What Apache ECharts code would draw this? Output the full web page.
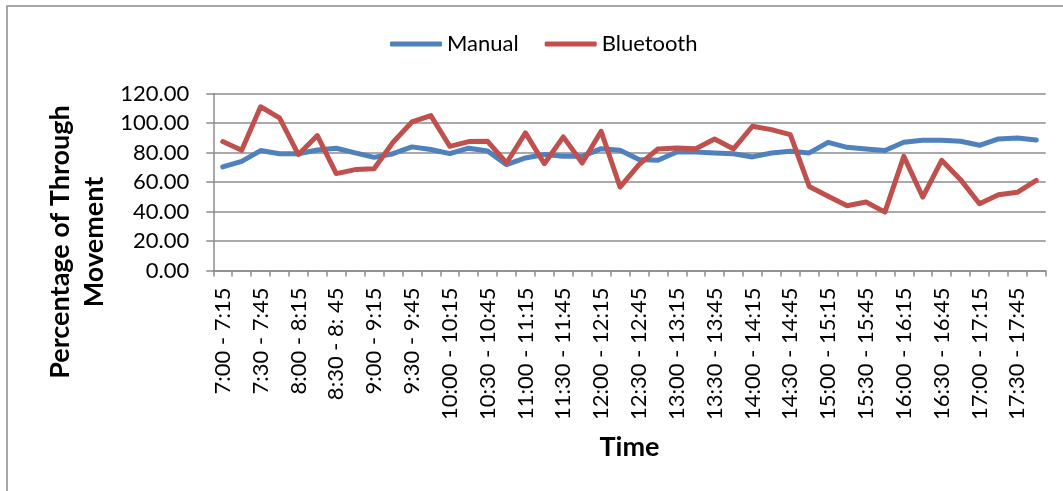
<!DOCTYPE html>
<html>
<head>
<meta charset="utf-8">
<script src="https://cdn.jsdelivr.net/npm/echarts@6/dist/echarts.min.js"></script>
<style>
html,body{margin:0;padding:0;background:#fff;}
#chart{width:1063px;height:491px;}
</style>
</head>
<body>
<div id="chart"></div>
<script>
var categories = ["7:00 - 7:15","7:15 - 7:30","7:30 - 7:45","7:45 - 8:00","8:00 - 8:15","8:15 - 8:30","8:30 - 8: 45","8:45 - 9:00","9:00 - 9:15","9:15 - 9:30","9:30 - 9:45","9:45 - 10:00","10:00 - 10:15","10:15 - 10:30","10:30 - 10:45","10:45 - 11:00","11:00 - 11:15","11:15 - 11:30","11:30 - 11:45","11:45 - 12:00","12:00 - 12:15","12:15 - 12:30","12:30 - 12:45","12:45 - 13:00","13:00 - 13:15","13:15 - 13:30","13:30 - 13:45","13:45 - 14:00","14:00 - 14:15","14:15 - 14:30","14:30 - 14:45","14:45 - 15:00","15:00 - 15:15","15:15 - 15:30","15:30 - 15:45","15:45 - 16:00","16:00 - 16:15","16:15 - 16:30","16:30 - 16:45","16:45 - 17:00","17:00 - 17:15","17:15 - 17:30","17:30 - 17:45","17:45 - 18:00"];

var manual = [70.2, 74.0, 81.3, 79.2, 79.2, 81.7, 82.9, 79.7, 76.7, 79.2, 83.8, 82.0, 79.2, 82.9, 81.0, 71.8, 76.3, 78.6, 77.4, 77.4, 82.6, 81.5, 75.2, 74.7, 80.4, 80.4, 79.7, 79.2, 77.0, 79.7, 80.8, 79.7, 86.9, 83.5, 82.4, 81.3, 86.9, 88.3, 88.3, 87.6, 84.9, 89.2, 89.9, 88.5];

var bluetooth = [87.4, 81.5, 111.0, 103.5, 78.6, 91.5, 65.7, 68.4, 69.0, 87.0, 100.7, 105.0, 84.2, 87.4, 87.6, 72.9, 93.3, 72.4, 90.6, 72.9, 94.4, 56.6, 71.8, 82.4, 83.1, 82.6, 89.2, 82.4, 97.8, 95.5, 92.1, 57.0, 50.3, 43.9, 46.4, 39.6, 77.4, 49.8, 74.7, 61.6, 45.3, 51.4, 53.0, 61.1];

var seriesNames = ["Manual", "Bluetooth"];
var xTitle = "Time";
var yTitle = "Percentage of Through\nMovement";
var yMin = 0, yMax = 120, yStep = 20;

var FONT = "Lato";
var GRID_C = "#8c8c8c";

var chart = echarts.init(document.getElementById('chart'), null, {renderer: 'canvas'});
chart.setOption({
  animation: false,
  backgroundColor: '#fff',
  color: ['#4F81BD', '#C0504D'],
  graphic: [
    {type: 'rect', shape: {x: 7, y: 6, width: 1100, height: 1000},
     style: {fill: 'none', stroke: '#8a8a8a', lineWidth: 1.5}, silent: true, z: -1},
    {type: 'text', x: 77, y: 242, rotation: Math.PI / 2,
     style: {text: yTitle, fontFamily: FONT, fontWeight: 'bold', fontSize: 27,
             lineHeight: 34, fill: '#000', align: 'center', verticalAlign: 'middle'}}
  ],
  legend: {
    left: 385, top: 28,
    itemWidth: 52, itemHeight: 5, itemGap: 26,
    icon: 'roundRect',
    textStyle: {fontFamily: FONT, fontSize: 22, color: '#000'},
    data: seriesNames
  },
  grid: {left: 213.3, right: 17.3, top: 93.5, bottom: 220.5, containLabel: false},
  xAxis: {
    type: 'category',
    data: categories,
    boundaryGap: true,
    name: xTitle,
    nameLocation: 'middle',
    nameGap: 163,
    nameTextStyle: {fontFamily: FONT, fontWeight: 'bold', fontSize: 27, color: '#000'},
    axisLine: {lineStyle: {color: GRID_C, width: 1.5}},
    axisTick: {show: true, interval: 0, length: 6, lineStyle: {color: GRID_C, width: 1.5}},
    axisLabel: {interval: 1, rotate: 90, margin: 17, fontFamily: FONT, fontSize: 22, color: '#000'},
    splitLine: {show: false}
  },
  yAxis: {
    type: 'value',
    min: yMin, max: yMax, interval: yStep,
    axisLine: {show: true, lineStyle: {color: GRID_C, width: 1.5}},
    axisTick: {show: true, length: 7, lineStyle: {color: GRID_C, width: 1.5}},
    axisLabel: {margin: 24, fontFamily: FONT, fontSize: 22, color: '#000',
                formatter: function (v) { return v.toFixed(2); }},
    splitLine: {show: true, lineStyle: {color: GRID_C, width: 1.5}}
  },
  series: [
    {name: seriesNames[0], type: 'line', data: manual, symbol: 'none',
     lineStyle: {width: 5, color: '#4F81BD', join: 'round', cap: 'round'}, z: 2},
    {name: seriesNames[1], type: 'line', data: bluetooth, symbol: 'none',
     lineStyle: {width: 5, color: '#C0504D', join: 'round', cap: 'round'}, z: 3}
  ]
});
</script>
</body>
</html>
